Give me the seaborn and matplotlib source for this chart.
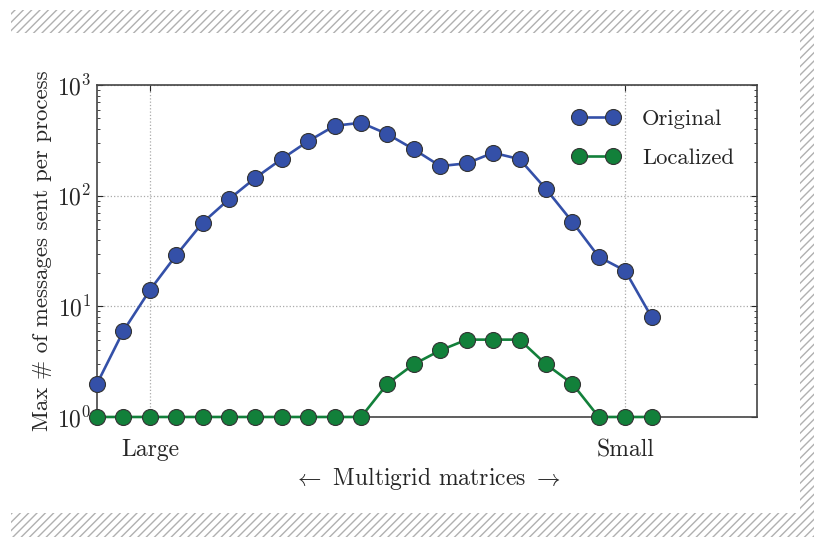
import numpy as np
import pandas as pd
import seaborn as sns
import matplotlib.pyplot as plt
from matplotlib.patches import Rectangle

# matrices in the multigrid hierarchy, large -> small
level = list(range(22))
original = [2, 6, 14, 29, 57, 93, 145, 215, 311, 428, 456, 360, 262, 185, 196, 244, 214, 115, 58, 28, 21, 8]
localized = [1, 1, 1, 1, 1, 1, 1, 1, 1, 1, 1, 2, 3, 4, 5, 5, 5, 3, 2, 1, 1, 1]
tick_pos = [2, 20]
tick_labels = ["Large", "Small"]

df = pd.DataFrame({
    "level": level * 2,
    "msgs": original + localized,
    "variant": ["Original"] * len(level) + ["Localized"] * len(level),
})

sns.set_style("ticks")
plt.rcParams["font.family"] = "serif"
plt.rcParams["font.serif"] = ["cmr10"]
plt.rcParams["mathtext.fontset"] = "cm"
plt.rcParams["axes.formatter.use_mathtext"] = True

colors = {"Original": "#3450a8", "Localized": "#12803a"}

fig = plt.figure(figsize=(8.14, 5.37), dpi=100)
ax = fig.add_axes([0.1192, 0.2235, 0.811, 0.6182])

sns.lineplot(data=df, x="level", y="msgs", hue="variant", palette=colors,
             marker="o", markersize=11.5, linewidth=1.9, markeredgewidth=0.8,
             markeredgecolor="#333333", ax=ax, legend=False)
for ln in ax.get_lines():
    ln.set_clip_on(False)
    ln.set_zorder(5)

ax.set_yscale("log")
ax.set_ylim(1, 1000)
ax.set_xlim(0, 25)
ax.set_xticks(tick_pos)
ax.set_xticklabels(tick_labels)
ax.grid(True, which="major", linestyle=":", color="#aaaaaa", linewidth=0.9)
ax.tick_params(which="both", direction="in", top=True, right=True, labelsize=17)
ax.tick_params(which="major", length=4)
ax.tick_params(which="minor", length=2)
ax.tick_params(axis="x", pad=16)
ax.tick_params(axis="y", pad=4)
for s in ax.spines.values():
    s.set_linewidth(1.2)
    s.set_color("#444444")

ax.set_xlabel(r"$\leftarrow$ Multigrid matrices $\rightarrow$", fontsize=17, labelpad=3)
ax.set_ylabel("Max # of messages sent per process", fontsize=16.5, labelpad=4)

lines = ax.get_lines()
ax.legend(lines[:2], ["Original", "Localized"], numpoints=2, frameon=False,
          loc="upper right", fontsize=16.3, handlelength=2.1, handletextpad=0.98,
          labelspacing=0.87, bbox_to_anchor=(0.996, 0.99))

# hatched border around the figure
W, H = 814, 537
hatch_kw = dict(facecolor="none", edgecolor="#b0b0b0", hatch="////", linewidth=0,
                transform=fig.transFigure, zorder=0)
fig.patches.append(Rectangle((11 / W, 1 - 33 / H), 1 - 11 / W, 23 / H, **hatch_kw))
fig.patches.append(Rectangle((11 / W, 0), 1 - 11 / W, 24 / H, **hatch_kw))
fig.patches.append(Rectangle((800 / W, 24 / H), 14 / W, 1 - 57 / H, **hatch_kw))

plt.savefig("out.png", dpi=100)
